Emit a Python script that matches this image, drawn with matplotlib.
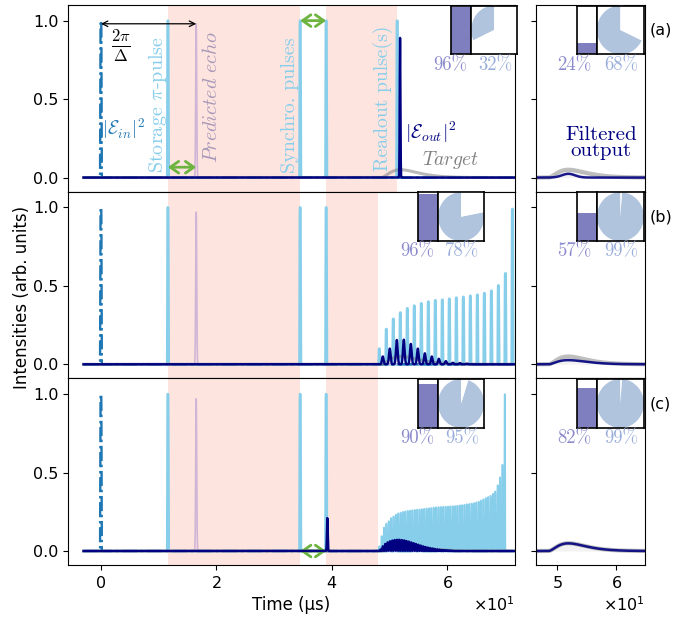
import numpy as np
import matplotlib.pyplot as plt

# === Data ===
row_labels = ['(a)', '(b)', '(c)']

input_t = 0.0
pi_pulse_t = 11.6
echo_t = 16.5
echo_h = [0.98, 0.97, 0.97]
synchro_t = [34.5, 39.0]
readout_span_end = [51.3, 48.0, 48.0]

# row (a): single readout pulse and its echo
readout_a_t = 51.3
out_a_t = 51.8
out_a_h = 0.89

# row (b): train of readout pulses, output echoes between them
train_b_start = 48.2
train_b_step = 1.213
train_b_h = [0.10, 0.225, 0.29, 0.33, 0.357, 0.374, 0.389, 0.40, 0.408, 0.412,
             0.418, 0.425, 0.43, 0.437, 0.444, 0.454, 0.469, 0.503, 0.58, 0.99]
out_b_h = [0.05, 0.10, 0.155, 0.157, 0.13, 0.10, 0.07, 0.05, 0.035, 0.02,
           0.01, 0.008, 0.004, 0, 0, 0, 0, 0, 0, 0]

# row (c): dense train of readout pulses
train_c_start = 48.2
train_c_step = 0.41
train_c_h = [0.03, 0.095, 0.15, 0.175, 0.19, 0.21, 0.22, 0.232, 0.24, 0.245,
             0.25, 0.253, 0.256, 0.258, 0.26, 0.262, 0.264, 0.265, 0.267, 0.269,
             0.271, 0.273, 0.275, 0.277, 0.279, 0.28, 0.281, 0.282, 0.283, 0.284,
             0.285, 0.286, 0.287, 0.289, 0.291, 0.293, 0.295, 0.298, 0.30, 0.303,
             0.306, 0.31, 0.315, 0.322, 0.33, 0.338, 0.345, 0.352, 0.365, 0.38,
             0.42, 0.47, 0.55, 1.0]
out_c_h = [0.01, 0.03, 0.045, 0.055, 0.062, 0.067, 0.07, 0.072, 0.072, 0.07,
           0.068, 0.064, 0.06, 0.055, 0.05, 0.045, 0.04, 0.035, 0.03, 0.026,
           0.022, 0.019, 0.016, 0.013, 0.011, 0.009, 0.007, 0.006, 0.005, 0.004,
           0.003] + [0] * 23
spike_c_t = 39.2
spike_c_h = 0.21

# target pulse (onset, rise time, peak)
target_onset = 48.5
target_rise = 3.4
target_peak = 0.05

# filtered output in the right panels
filt_a_t, filt_a_h, filt_a_w = 51.9, 0.024, 1.1
filt_scale = [None, 0.53, 0.98]

# efficiencies shown in the little bar / pie boxes
bar_left = [96, 96, 90]
pie_left = [32, 78, 95]
bar_right = [24, 57, 82]
pie_right = [68, 99, 99]

# === Styles ===
PULSE = '#87ceeb'
INPUT = '#1f77b4'
ECHO = '#cdb0d6'
OUT = 'navy'
SHADE = '#fde4df'
BAR = '#7f7fbf'
PIE = '#b0c4de'
BAR_TXT = '#8a8acc'
PIE_TXT = '#9aaedb'
GREEN = '#6db33f'

t = np.arange(-3.0, 72.0, 0.004)


def pulse_train(centers, heights, width, power=2):
    y = np.zeros_like(t)
    for c, h in zip(centers, heights):
        y += h * np.exp(-np.abs((t - c) / width) ** power)
    return y


def target_shape(scale=1.0):
    x = np.clip((t - target_onset) / target_rise, 0, None)
    return scale * target_peak * x ** 2 * np.exp(2 - 2 * x)


fig = plt.figure(figsize=(6.91, 6.19), dpi=100)
gs = fig.add_gridspec(3, 2, width_ratios=[447, 109], left=0.0984, right=0.9334,
                      top=0.992, bottom=0.087, hspace=0, wspace=0.0755)

axes_l, axes_r = [], []
for i in range(3):
    axl = fig.add_subplot(gs[i, 0], sharex=axes_l[0] if axes_l else None)
    axr = fig.add_subplot(gs[i, 1], sharex=axes_r[0] if axes_r else None)
    axes_l.append(axl)
    axes_r.append(axr)

b_times = train_b_start + train_b_step * np.arange(len(train_b_h))
c_times = train_c_start + train_c_step * np.arange(len(train_c_h))

for i, (axl, axr) in enumerate(zip(axes_l, axes_r)):
    # shaded regions
    axl.axvspan(pi_pulse_t, synchro_t[0], color=SHADE, lw=0, zorder=0)
    axl.axvspan(synchro_t[1], readout_span_end[i], color=SHADE, lw=0, zorder=0)

    # control pulses
    centers = [pi_pulse_t] + synchro_t
    heights = [1, 1, 1]
    axl.plot(t, pulse_train(centers, heights, 0.1, power=6), color=PULSE, lw=1.8, zorder=2)
    if i == 0:
        axl.plot(t, pulse_train([readout_a_t], [1], 0.1, power=6), color=PULSE,
                 lw=1.8, zorder=2)
    elif i == 1:
        axl.plot(t, pulse_train(b_times, train_b_h, 0.1, power=6), color=PULSE,
                 lw=1.8, zorder=2)
    else:
        axl.plot(t, pulse_train(c_times, train_c_h, 0.07, power=6), color=PULSE,
                 lw=1.2, zorder=2)

    # input pulse and predicted echo
    axl.plot(t, pulse_train([input_t], [1.0], 0.12, power=6), color=INPUT, lw=1.7,
             ls='-.', zorder=3)
    axl.plot(t, pulse_train([echo_t], [echo_h[i]], 0.12), color=ECHO, lw=1.2,
             alpha=0.9, zorder=2)

    # target
    axl.plot(t, target_shape(), color='gray', lw=2.2, alpha=0.55, zorder=3)

    # output
    if i == 0:
        out = pulse_train([out_a_t], [out_a_h], 0.09)
    elif i == 1:
        out = pulse_train(b_times + train_b_step / 2, out_b_h, 0.2)
    else:
        out = pulse_train(list(c_times + train_c_step / 2) + [spike_c_t],
                          out_c_h + [spike_c_h], 0.1)
    axl.plot(t, out, color=OUT, lw=1.7, zorder=4)

    axl.set_ylim(-0.09, 1.1)
    axl.set_yticks([0, 0.5, 1.0])
    axl.tick_params(labelsize=11.5)

    # right panels: filtered output
    tgt = target_shape()
    axr.fill_between(t, 0, tgt, color='0.9', alpha=0.5, lw=0)
    axr.plot(t, tgt, color='gray', lw=3, alpha=0.5)
    if i == 0:
        filt = pulse_train([filt_a_t], [filt_a_h], filt_a_w * np.sqrt(2))
    else:
        filt = target_shape(filt_scale[i])
    axr.plot(t, filt, color=OUT, lw=1.8, alpha=0.9)
    axr.set_ylim(-0.09, 1.1)
    axr.set_yticks([0, 0.5, 1.0])
    axr.tick_params(labelleft=False, labelsize=11.5)
    axr.text(1.04, 0.865, row_labels[i], transform=axr.transAxes, fontsize=11.5,
             va='center', ha='left')

    # efficiency boxes
    bx = 0.857 if i == 0 else 0.783
    for ax, x0, wb, wp, bval, pval, bx_txt in [
            (axl, bx, 0.045, 0.103, bar_left[i], pie_left[i], 0.8),
            (axr, 0.376, 0.183, 0.431, bar_right[i], pie_right[i], 0.75)]:
        ab = ax.inset_axes([x0, 0.735, wb, 0.262])
        ab.bar(0, bval / 100, width=1, color=BAR)
        ab.set_xlim(-0.5, 0.5)
        ab.set_ylim(0, 1)
        ap = ax.inset_axes([x0 + wb, 0.735, wp, 0.262])
        ap.pie([pval, 100 - pval], colors=[PIE, 'white'], startangle=90,
               counterclock=True, radius=1, frame=True)
        ap.set_aspect('auto')
        ap.set_xlim(-1, 1)
        ap.set_ylim(-1, 1)
        for a in (ab, ap):
            a.set_xticks([])
            a.set_yticks([])
            for s in a.spines.values():
                s.set_linewidth(1.2)
                s.set_color('black')
        ab.annotate('%d%%' % bval, xy=(bx_txt, 0), xycoords=ab.transAxes,
                    xytext=(0, -1), textcoords='offset points', ha='right', va='top',
                    color=BAR_TXT, fontsize=13.5, family='cmr10')
        ap.annotate('%d%%' % pval, xy=(0.52, 0), xycoords=ap.transAxes,
                    xytext=(0, -1), textcoords='offset points', ha='center', va='top',
                    color=PIE_TXT, fontsize=13.5, family='cmr10')

    if i < 2:
        axl.tick_params(labelbottom=False)
        axr.tick_params(labelbottom=False)

axes_l[0].set_xlim(-5.7, 71.7)
axes_l[0].set_xticks([0, 20, 40, 60])
axes_r[0].set_xlim(46.4, 64.9)
axes_r[0].set_xticks([50, 60])
for ax in (axes_l[2], axes_r[2]):
    ax.ticklabel_format(axis='x', style='sci', scilimits=(1, 1), useMathText=True)
    ax.xaxis.get_offset_text().set_fontsize(11.5)

axes_l[2].set_xlabel('Time (µs)', fontsize=12)
fig.text(0.032, 0.52, 'Intensities (arb. units)', rotation=90, fontsize=12,
         ha='center', va='center')

# annotations in row (a)
ax = axes_l[0]
cm = dict(family='cmr10', math_fontfamily='cm')
ax.text(9.8, 0.03, 'Storage $\\pi$-pulse', rotation=90, ha='center', va='bottom',
        color=PULSE, fontsize=14.5, **cm)
ax.text(19.2, 0.09, r'$\mathit{Predicted\ echo}$', rotation=90, ha='center',
        va='bottom', color='#a898b8', fontsize=14.5, math_fontfamily='cm')
ax.text(32.8, 0.03, 'Synchro. pulses', rotation=90, ha='center', va='bottom',
        color=PULSE, fontsize=14.5, **cm)
ax.text(48.9, 0.04, 'Readout pulse(s)', rotation=90, ha='center', va='bottom',
        color=PULSE, fontsize=14.2, **cm)
ax.text(0.25, 0.31, r'$|\mathcal{E}_{in}|^2$', color=INPUT, fontsize=13.5,
        ha='left', va='center', math_fontfamily='cm')
ax.text(52.7, 0.29, r'$|\mathcal{E}_{out}|^2$', color=OUT, fontsize=14,
        ha='left', va='center', math_fontfamily='cm')
ax.text(60.5, 0.115, r'$\mathit{Target}$', color='gray', fontsize=14,
        ha='center', va='center', math_fontfamily='cm')
ax.text(3.4, 0.84, r'$\frac{2\pi}{\Delta}$', color='black', fontsize=17,
        ha='center', va='center', math_fontfamily='cm')
ax.annotate('', xy=(echo_t, 0.98), xytext=(input_t, 0.98),
            arrowprops=dict(arrowstyle='<->', color='black', lw=0.9,
                            shrinkA=0, shrinkB=0))
green = dict(arrowstyle='<->,head_length=0.5,head_width=0.35', color=GREEN, lw=2,
             shrinkA=0, shrinkB=0, mutation_scale=12)
ax.annotate('', xy=(echo_t, 0.066), xytext=(pi_pulse_t, 0.066), arrowprops=green)
ax.annotate('', xy=(synchro_t[1], 1.0), xytext=(synchro_t[0], 1.0), arrowprops=green)
axes_l[2].annotate('', xy=(synchro_t[1], 0.0), xytext=(synchro_t[0], 0.0),
                   arrowprops=green)
axes_r[0].text(57.4, 0.22, 'Filtered\noutput', color=OUT, fontsize=15,
               ha='center', va='center', linespacing=0.9, family='cmr10')

fig.savefig('out.png', dpi=100)
